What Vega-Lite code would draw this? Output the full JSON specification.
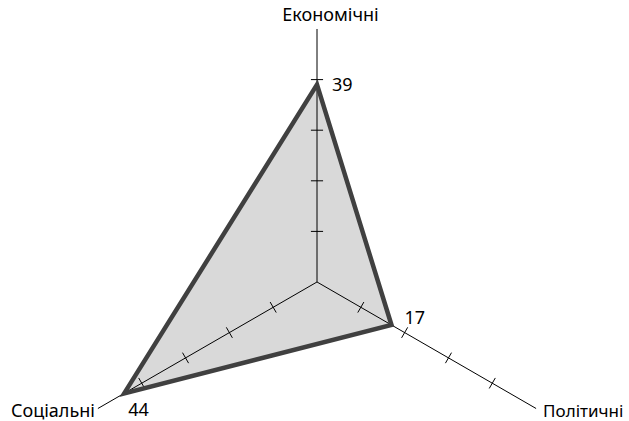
{
  "$schema": "https://vega.github.io/schema/vega-lite/v6.json",
  "width": 629,
  "height": 421,
  "padding": 0,
  "autosize": {"type": "none"},
  "background": "white",
  "config": {"view": {"stroke": null}, "text": {"font": "Noto Sans", "fontSize": 18, "color": "#000000"}},
  "datasets": {
    "scores": [
      {"i": 0, "category": "Економічні", "value": 39},
      {"i": 1, "category": "Політичні", "value": 17},
      {"i": 2, "category": "Соціальні", "value": 44}
    ],
    "ticks": [
      {"i": 0, "t": 10}, {"i": 0, "t": 20}, {"i": 0, "t": 30}, {"i": 0, "t": 40},
      {"i": 1, "t": 10}, {"i": 1, "t": 20}, {"i": 1, "t": 30}, {"i": 1, "t": 40},
      {"i": 2, "t": 10}, {"i": 2, "t": 20}, {"i": 2, "t": 30}, {"i": 2, "t": 40}
    ]
  },
  "resolve": {"scale": {"x": "shared", "y": "shared"}},
  "layer": [
    {
      "data": {"name": "scores"},
      "transform": [
        {"calculate": "PI/2 - datum.i*2*PI/3", "as": "a"},
        {"calculate": "datum.value*cos(datum.a)", "as": "px"},
        {"calculate": "datum.value*sin(datum.a)", "as": "py"}
      ],
      "mark": {"type": "line", "interpolate": "linear-closed", "fill": "#d9d9d9", "stroke": null, "strokeWidth": 0},
      "encoding": {
        "x": {"field": "px", "type": "quantitative", "scale": {"domain": [-62.65, 61.66], "nice": false, "zero": false}, "axis": null},
        "y": {"field": "py", "type": "quantitative", "scale": {"domain": [-27.47, 55.73], "nice": false, "zero": false}, "axis": null},
        "order": {"field": "i"}
      }
    },
    {
      "data": {"name": "scores"},
      "transform": [
        {"calculate": "PI/2 - datum.i*2*PI/3", "as": "a"},
        {"calculate": "50*cos(datum.a)", "as": "ex"},
        {"calculate": "50*sin(datum.a)", "as": "ey"},
        {"calculate": "0", "as": "ox"},
        {"calculate": "0", "as": "oy"}
      ],
      "mark": {"type": "rule", "color": "#000000", "strokeWidth": 1},
      "encoding": {
        "x": {"field": "ox", "type": "quantitative"},
        "y": {"field": "oy", "type": "quantitative"},
        "x2": {"field": "ex"},
        "y2": {"field": "ey"}
      }
    },
    {
      "data": {"name": "ticks"},
      "transform": [
        {"calculate": "PI/2 - datum.i*2*PI/3", "as": "a"},
        {"calculate": "datum.t*cos(datum.a) - 1.2*sin(datum.a)", "as": "x1"},
        {"calculate": "datum.t*sin(datum.a) + 1.2*cos(datum.a)", "as": "y1"},
        {"calculate": "datum.t*cos(datum.a) + 1.2*sin(datum.a)", "as": "x2"},
        {"calculate": "datum.t*sin(datum.a) - 1.2*cos(datum.a)", "as": "y2"}
      ],
      "mark": {"type": "rule", "color": "#000000", "strokeWidth": 1},
      "encoding": {
        "x": {"field": "x1", "type": "quantitative"},
        "y": {"field": "y1", "type": "quantitative"},
        "x2": {"field": "x2"},
        "y2": {"field": "y2"}
      }
    },
    {
      "data": {"name": "scores"},
      "transform": [
        {"calculate": "PI/2 - datum.i*2*PI/3", "as": "a"},
        {"calculate": "datum.value*cos(datum.a)", "as": "px"},
        {"calculate": "datum.value*sin(datum.a)", "as": "py"}
      ],
      "mark": {"type": "line", "interpolate": "linear-closed", "stroke": "#404040", "strokeWidth": 4.5, "strokeJoin": "miter"},
      "encoding": {
        "x": {"field": "px", "type": "quantitative"},
        "y": {"field": "py", "type": "quantitative"},
        "order": {"field": "i"}
      }
    },
    {
      "data": {"name": "scores"},
      "transform": [
        {"filter": "datum.i == 0"},
        {"calculate": "PI/2 - datum.i*2*PI/3", "as": "a"},
        {"calculate": "datum.value*cos(datum.a)", "as": "px"},
        {"calculate": "datum.value*sin(datum.a)", "as": "py"},
        {"calculate": "50*cos(datum.a)", "as": "ex"},
        {"calculate": "50*sin(datum.a)", "as": "ey"}
      ],
      "layer": [
        {"mark": {"type": "text", "align": "left", "baseline": "alphabetic", "dx": 15, "dy": 6},
         "encoding": {"x": {"field": "px", "type": "quantitative"}, "y": {"field": "py", "type": "quantitative"}, "text": {"field": "value"}}},
        {"mark": {"type": "text", "align": "center", "baseline": "alphabetic", "dx": 13.5, "dy": -8},
         "encoding": {"x": {"field": "ex", "type": "quantitative"}, "y": {"field": "ey", "type": "quantitative"}, "text": {"field": "category"}}}
      ]
    },
    {
      "data": {"name": "scores"},
      "transform": [
        {"filter": "datum.i == 1"},
        {"calculate": "PI/2 - datum.i*2*PI/3", "as": "a"},
        {"calculate": "datum.value*cos(datum.a)", "as": "px"},
        {"calculate": "datum.value*sin(datum.a)", "as": "py"},
        {"calculate": "50*cos(datum.a)", "as": "ex"},
        {"calculate": "50*sin(datum.a)", "as": "ey"}
      ],
      "layer": [
        {"mark": {"type": "text", "align": "left", "baseline": "alphabetic", "dx": 13, "dy": -1},
         "encoding": {"x": {"field": "px", "type": "quantitative"}, "y": {"field": "py", "type": "quantitative"}, "text": {"field": "value"}}},
        {"mark": {"type": "text", "align": "left", "baseline": "alphabetic", "dx": 7, "dy": 8, "fontSize": 17},
         "encoding": {"x": {"field": "ex", "type": "quantitative"}, "y": {"field": "ey", "type": "quantitative"}, "text": {"field": "category"}}}
      ]
    },
    {
      "data": {"name": "scores"},
      "transform": [
        {"filter": "datum.i == 2"},
        {"calculate": "PI/2 - datum.i*2*PI/3", "as": "a"},
        {"calculate": "datum.value*cos(datum.a)", "as": "px"},
        {"calculate": "datum.value*sin(datum.a)", "as": "py"},
        {"calculate": "50*cos(datum.a)", "as": "ex"},
        {"calculate": "50*sin(datum.a)", "as": "ey"}
      ],
      "layer": [
        {"mark": {"type": "text", "align": "left", "baseline": "alphabetic", "dx": 4, "dy": 23},
         "encoding": {"x": {"field": "px", "type": "quantitative"}, "y": {"field": "py", "type": "quantitative"}, "text": {"field": "value"}}},
        {"mark": {"type": "text", "align": "right", "baseline": "alphabetic", "dx": -3, "dy": 8},
         "encoding": {"x": {"field": "ex", "type": "quantitative"}, "y": {"field": "ey", "type": "quantitative"}, "text": {"field": "category"}}}
      ]
    }
  ]
}
